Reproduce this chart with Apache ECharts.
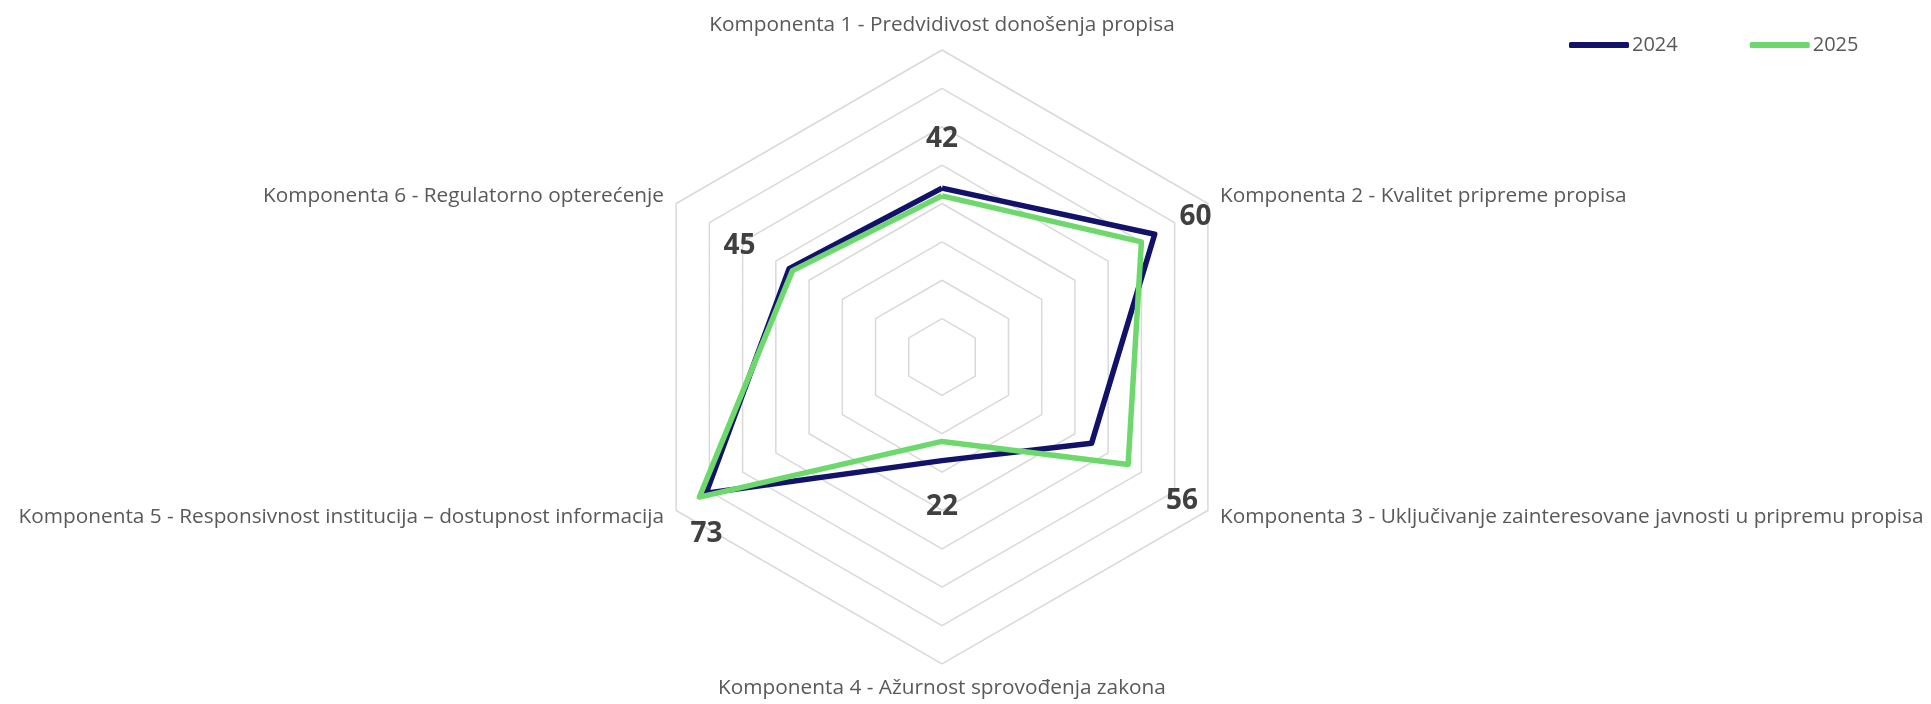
<!DOCTYPE html>
<html>
<head>
<meta charset="utf-8">
<script src="https://cdn.jsdelivr.net/npm/echarts@6/dist/echarts.min.js"></script>
<style>
  html, body { margin: 0; padding: 0; background: #fff; }
  #main { width: 1931px; height: 704px; }
</style>
</head>
<body>
<div id="main"></div>
<script>
// data
const components = [
  'Komponenta 1 - Predvidivost donošenja propisa',
  'Komponenta 2 - Kvalitet pripreme propisa',
  'Komponenta 3 - Uključivanje zainteresovane javnosti u pripremu propisa',
  'Komponenta 4 - Ažurnost sprovođenja zakona',
  'Komponenta 5 - Responsivnost institucija – dostupnost informacija',
  'Komponenta 6 - Regulatorno opterećenje'
];
const years = ['2024', '2025'];
const values2024 = [44, 64, 45, 27, 71, 46];
const values2025 = [42, 60, 56, 22, 73, 45];
const axisMax = 80;
const rings = 8;

// echarts places indicators counter-clockwise, the source goes clockwise
const order = [0, 5, 4, 3, 2, 1];
const pick = arr => order.map(i => arr[i]);

const CENTER = [942, 357];
// label nudge per component (clockwise from top), in px
const labelNudge = [[0, -57], [54, -25], [54, 37], [0, 66], [7, 37], [-53, -25]];

var chartDom = document.getElementById('main');
var myChart = echarts.init(chartDom);
var option;

option = {
  animation: false,
  legend: {
    data: years,
    left: 1564,
    top: 30,
    icon: 'roundRect',
    itemWidth: 60,
    itemHeight: 6,
    itemGap: 72,
    textStyle: { color: '#595959', fontSize: 20, fontFamily: 'Open Sans', padding: [0, 0, 0, -2] }
  },
  radar: {
    center: CENTER,
    radius: 307,
    startAngle: 90,
    splitNumber: rings,
    shape: 'polygon',
    indicator: pick(components).map(name => ({ name: name, min: 0, max: axisMax })),
    axisName: { color: '#595959', fontSize: 20.8, fontFamily: 'Open Sans' },
    nameGap: 14,
    axisLine: { show: false },
    axisTick: { show: false },
    axisLabel: { show: false },
    splitArea: { show: false },
    splitLine: { lineStyle: { color: '#d9d9d9', width: 1.5 } }
  },
  series: [
    {
      name: '2024',
      type: 'radar',
      symbol: 'none',
      color: '#12126a',
      lineStyle: { color: '#12126a', width: 5.5 },
      data: [{ name: '2024', value: pick(values2024) }]
    },
    {
      name: '2025',
      type: 'radar',
      symbol: 'circle',
      symbolSize: 1,
      color: '#6dd96d',
      itemStyle: { color: '#6dd96d' },
      lineStyle: { color: '#6dd96d', width: 5.5 },
      label: {
        show: true,
        position: 'inside',
        color: '#404040',
        fontSize: 28,
        fontWeight: 'bold',
        fontFamily: 'Open Sans'
      },
      labelLayout: function (p) {
        const x = p.rect.x + p.rect.width / 2;
        const y = p.rect.y + p.rect.height / 2;
        const ang = Math.atan2(CENTER[1] - y, x - CENTER[0]) * 180 / Math.PI;
        const k = ((Math.round((90 - ang) / 60) % 6) + 6) % 6;
        return { dx: labelNudge[k][0], dy: labelNudge[k][1] };
      },
      data: [{ name: '2025', value: pick(values2025) }]
    }
  ]
};
option && myChart.setOption(option);
</script>
</body>
</html>
